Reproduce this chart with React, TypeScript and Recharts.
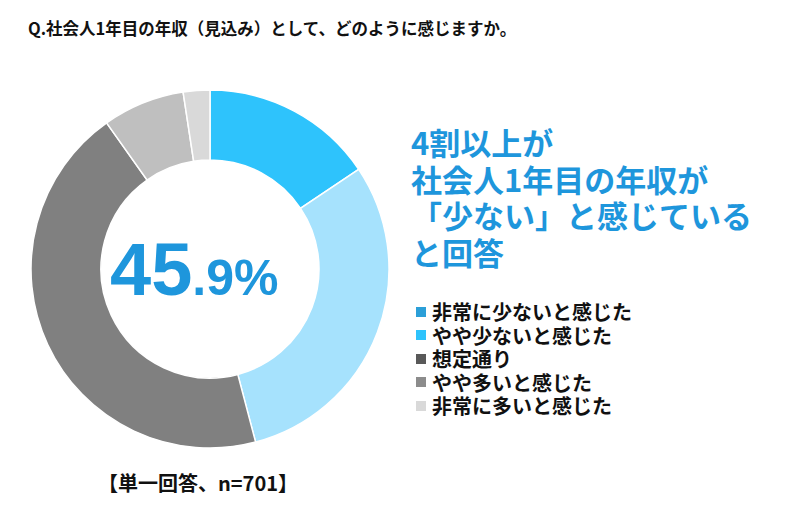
import React from "react";
import { PieChart, Pie, Cell, Legend } from "recharts";

const categories = [
  "非常に少ないと感じた",
  "やや少ないと感じた",
  "想定通り",
  "やや多いと感じた",
  "非常に多いと感じた",
];
const shares = [15.6, 30.3, 44.3, 7.4, 2.4];
const sliceColors = ["#2EC3FC", "#A6E2FD", "#808080", "#BFBFBF", "#D9D9D9"];
const legendColors = ["#2B9FD8", "#2EC3FC", "#595959", "#8C8C8C", "#D9D9D9"];

const title = "Q.社会人1年目の年収（見込み）として、どのように感じますか。";
const headline = ["4割以上が", "社会人1年目の年収が", "「少ない」と感じている", "と回答"];
const note = "【単一回答、n=701】";

const data = categories.map((name, i) => ({ name, value: shares[i] }));

const jp = '"Noto Sans CJK JP", sans-serif';
const blue = "#1E96DC";

function LegendList() {
  return (
    <div style={{ fontFamily: jp, fontWeight: 700, fontSize: 20, color: "#111" }}>
      {categories.map((c, i) => (
        <div key={c} style={{ display: "flex", alignItems: "center", height: 23.5 }}>
          <span
            style={{
              display: "inline-block",
              width: 10,
              height: 10,
              background: legendColors[i],
              marginRight: 6,
            }}
          />
          <span style={{ lineHeight: "23.5px" }}>{c}</span>
        </div>
      ))}
    </div>
  );
}

function App() {
  return (
    <div style={{ position: "absolute", left: 0, top: 0, width: 800, height: 510, background: "#fff" }}>
      <PieChart width={800} height={510} margin={{ top: 0, right: 0, bottom: 0, left: 0 }}>
        <Pie
          data={data}
          dataKey="value"
          nameKey="name"
          cx={210}
          cy={269}
          innerRadius={109}
          outerRadius={179}
          startAngle={90}
          endAngle={-270}
          stroke="#fff"
          strokeWidth={1.5}
          isAnimationActive={false}
        >
          {data.map((d, i) => (
            <Cell key={d.name} fill={sliceColors[i]} />
          ))}
        </Pie>
        <Legend
          content={() => <LegendList />}
          wrapperStyle={{ left: 416, top: 300, width: 280, bottom: "auto" }}
        />
      </PieChart>

      <div
        style={{
          position: "absolute",
          left: 28,
          top: 17,
          fontFamily: jp,
          fontWeight: 700,
          fontSize: 16.5,
          lineHeight: "22px",
          color: "#111",
          whiteSpace: "nowrap",
        }}
      >
        {title}
      </div>

      <div
        style={{
          position: "absolute",
          left: 411,
          top: 124,
          fontFamily: jp,
          fontWeight: 700,
          fontSize: 31,
          lineHeight: "36.5px",
          color: blue,
          whiteSpace: "nowrap",
        }}
      >
        {headline.map((l) => (
          <div key={l}>{l}</div>
        ))}
      </div>

      <div
        style={{
          position: "absolute",
          left: 110,
          top: 230,
          fontFamily: '"Liberation Sans", Arial, sans-serif',
          fontWeight: 700,
          color: blue,
          whiteSpace: "nowrap",
          lineHeight: "80px",
        }}
      >
        <span style={{ fontSize: 74 }}>45</span>
        <span style={{ fontSize: 50 }}>.9%</span>
      </div>

      <div
        style={{
          position: "absolute",
          left: 98,
          top: 470,
          fontFamily: jp,
          fontWeight: 700,
          fontSize: 20,
          lineHeight: "26px",
          color: "#111",
          whiteSpace: "nowrap",
        }}
      >
        {note}
      </div>
    </div>
  );
}

export default App;
